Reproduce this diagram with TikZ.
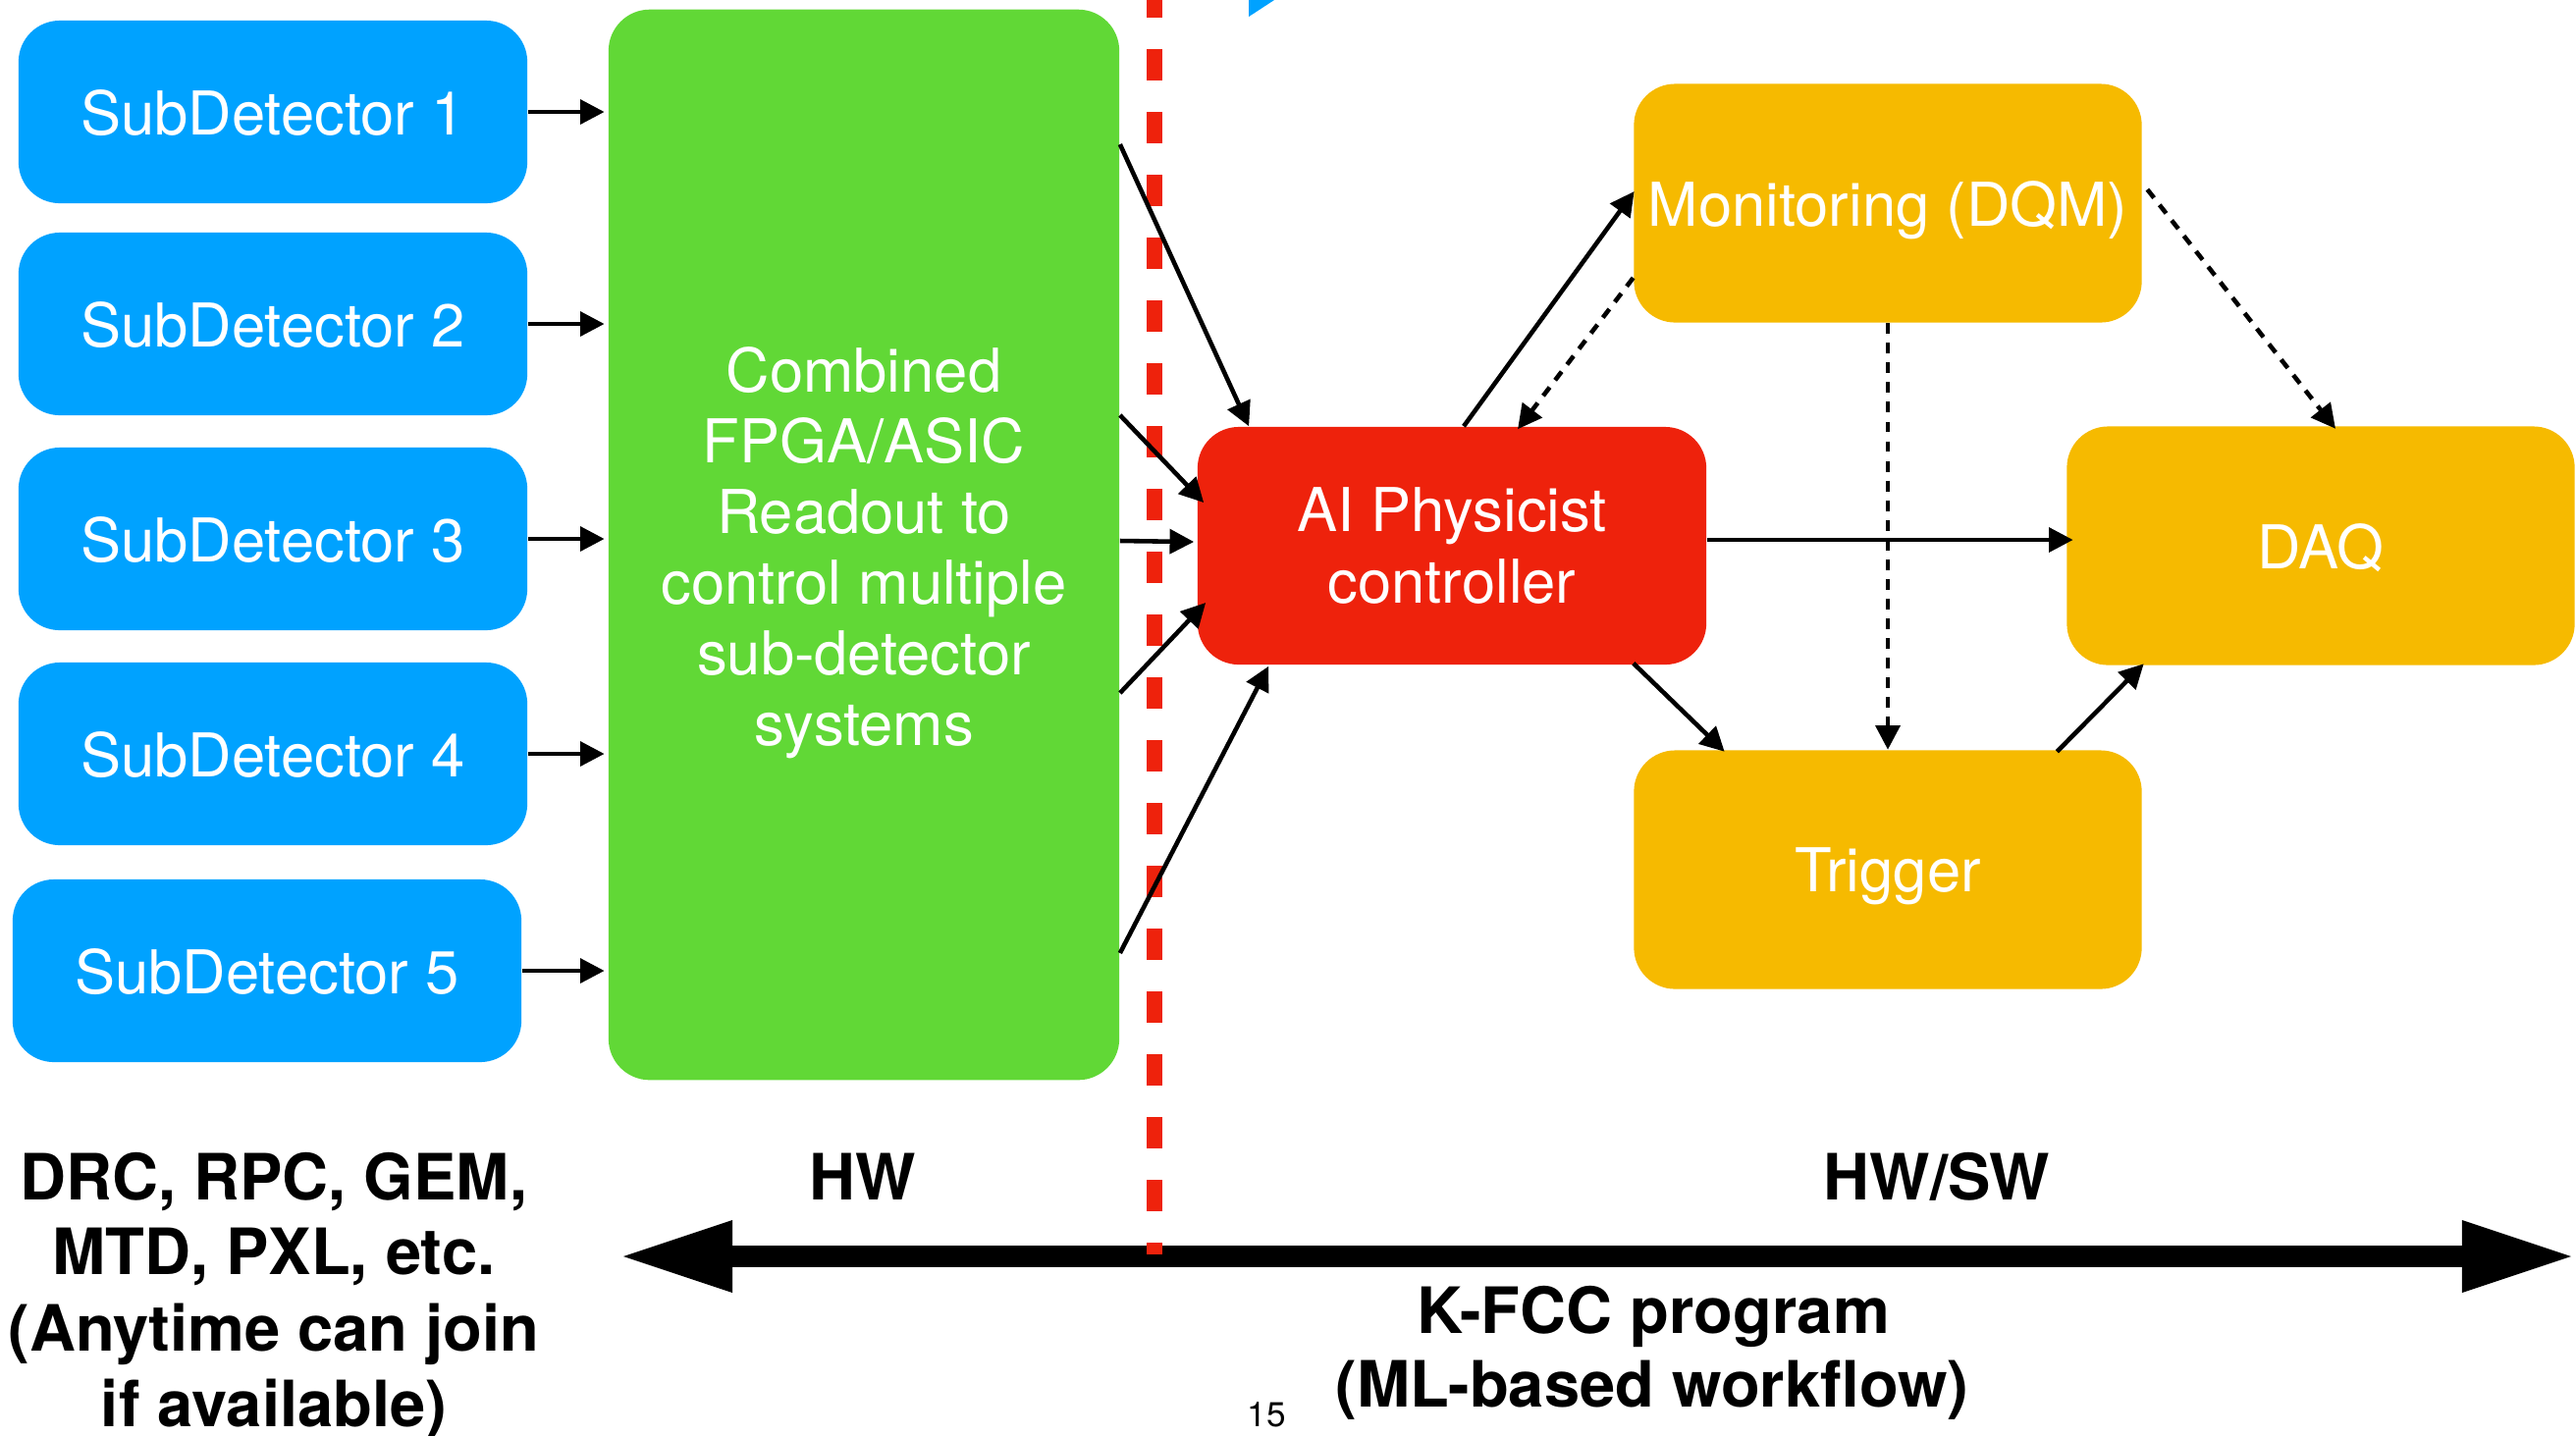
\documentclass[tikz,border=0pt]{standalone}
\usepackage{fontspec}
\setmainfont{TeX Gyre Heros}
\usetikzlibrary{arrows.meta,calc}
\definecolor{sdblue}{HTML}{00A2FF}
\definecolor{fgreen}{HTML}{61D836}
\definecolor{aired}{HTML}{EE220C}
\definecolor{boxyel}{HTML}{F6BA00}
\begin{document}
\begin{tikzpicture}[x=0.01cm,y=-0.01cm,
  box/.style={rectangle, rounded corners=0.42cm, inner sep=0pt, text=white, align=center, font=\fontsize{17.5}{20.5}\selectfont},
  sdbox/.style={box, fill=sdblue, minimum width=5.18cm, minimum height=1.86cm, text depth=0pt},
  ybox/.style={box, fill=boxyel, minimum width=5.17cm, minimum height=2.43cm, text depth=0pt},
  conn/.style={line width=1.3pt, -{Triangle[length=7pt,width=7pt]}},
  dotconn/.style={conn, dash pattern=on 3.1pt off 2.6pt},
  lbl/.style={font=\fontsize{18.5}{22}\selectfont\bfseries, anchor=base, inner sep=0pt}
]
\useasboundingbox (0,0) rectangle (2624,1462);

% boxes
\node[sdbox] (sd1) at (278,114) {SubDetector 1};
\node[sdbox] (sd2) at (278,330) {SubDetector 2};
\node[sdbox] (sd3) at (278,549) {SubDetector 3};
\node[sdbox] (sd4) at (278,768) {SubDetector 4};
\node[sdbox] (sd5) at (272,989) {SubDetector 5};
\node[box, fill=fgreen, minimum width=5.2cm, minimum height=10.9cm] (fpga) at (880,555)
  {\rule{0pt}{17.8pt}Combined\\FPGA/ASIC\\Readout to\\control multiple\\sub-detector\\systems};
\node[box, fill=aired, minimum width=5.18cm, minimum height=2.42cm] (ai) at (1479,556) {AI Physicist\\controller};
\node[ybox] (mon) at (1923,207) {Monitoring (DQM)};
\node[ybox] (daq) at (2364,556) {DAQ};
\node[ybox] (trig) at (1923,886) {Trigger};

% small blue corner
\fill[sdblue] (1272,0) -- (1298,0) -- (1272,17) -- cycle;

% big double arrow
\coordinate (kl) at (630,1280);
\coordinate (kr) at (2624,1280);
\draw[line width=6.3pt, {Triangle[length=33pt,width=19pt]}-{Triangle[length=33pt,width=19pt]}] (kl) -- (kr);

% red dashed divider
\coordinate (dtop) at (1176,-14);
\coordinate (dbot) at (1176,1278);
\draw[aired, line width=4.7pt, dash pattern=on 9.1pt off 9.1pt] (dtop) -- (dbot);

% subdetectors -> fpga
\foreach \s in {sd1,sd2,sd3,sd4,sd5}
  \draw[conn, shorten >=1pt] (\s.east) -- (fpga.west |- \s.east);

% fpga -> AI
\draw[conn] ($(fpga.east)+(0,-408)$) -- ($(ai.north west)+(53,0)$);
\draw[conn] ($(fpga.east)+(0,-132)$) -- ($(ai.west)+(7,-44)$);
\draw[conn] ($(fpga.east)+(0,-4)$) -- ($(ai.west)+(-3,-4)$);
\draw[conn] ($(fpga.east)+(0,151)$) -- ($(ai.west)+(9,58)$);
\draw[conn] ($(fpga.east)+(0,416)$) -- ($(ai.south west)+(73,1)$);

% AI <-> others
\draw[conn] ($(ai.north)+(12,0)$) -- ($(mon.west)+(1,-12)$);
\draw[dotconn] ($(mon.west)+(0,76)$) -- ($(ai.north)+(67,3)$);
\draw[conn] ($(ai.east)+(0,-6)$) -- ($(daq.west)+(7,-6)$);
\draw[dotconn] (mon.south) -- (trig.north);
\draw[dotconn] ($(mon.east)+(5,-14)$) -- ($(daq.north)+(15,3)$);
\draw[conn] ($(ai.south east)+(-75,-2)$) -- ($(trig.north west)+(93,2)$);
\draw[conn] ($(trig.north east)+(-87,2)$) -- ($(daq.south west)+(79,-2)$);

% labels
\node[lbl] (l1) at (279,1222) {DRC, RPC, GEM,};
\node[lbl] (l2) at (279,1298) {MTD, PXL, etc.};
\node[lbl] (l3) at (279,1376) {(Anytime can join};
\node[lbl] (l4) at (279,1453) {if available)};
\node[lbl] (hw) at (879,1222) {HW};
\node[lbl] (hwsw) at (1973,1222) {HW/SW};
\node[lbl] (kfcc) at (1684,1358) {K-FCC program};
\node[lbl] (ml) at (1683,1433) {(ML-based workflow)};
\node[font=\fontsize{10}{12}\selectfont, anchor=base, inner sep=0pt] (pg) at (1290,1453) {15};
\end{tikzpicture}
\end{document}
